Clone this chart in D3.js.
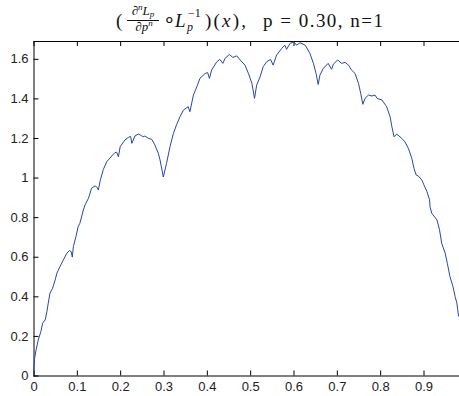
<!DOCTYPE html>
<html>
<head>
<meta charset="utf-8">
<script src="https://cdn.jsdelivr.net/npm/d3@7"></script>
<style>
  body { margin: 0; background: #fff; }
  svg { display: block; }
</style>
</head>
<body>
<div id="chart"></div>
<script>
// values
const curveX = [0, 0.001, 0.002, 0.006, 0.011, 0.017, 0.021, 0.027, 0.031, 0.034, 0.038, 0.044, 0.050, 0.054, 0.061, 0.069, 0.077, 0.083, 0.087, 0.0895,
  0.092, 0.098, 0.103, 0.107, 0.115, 0.119, 0.127, 0.134, 0.142, 0.147, 0.1496, 0.154, 0.161, 0.169, 0.181, 0.188, 0.192, 0.196,
  0.200, 0.211, 0.219, 0.224, 0.227, 0.234, 0.242, 0.249, 0.253, 0.257, 0.265, 0.273, 0.280, 0.288, 0.292, 0.2996,
  0.307, 0.315, 0.323, 0.330, 0.338, 0.346, 0.357, 0.361, 0.369, 0.377, 0.384, 0.396, 0.402, 0.406, 0.411, 0.423, 0.430, 0.437,
  0.442, 0.452, 0.460, 0.469, 0.477, 0.488, 0.496, 0.504, 0.510, 0.515, 0.523, 0.530, 0.538, 0.547, 0.553, 0.561, 0.573, 0.580,
  0.584, 0.592, 0.601, 0.607, 0.615, 0.627, 0.638, 0.646, 0.652, 0.657, 0.661, 0.669, 0.680, 0.688, 0.692, 0.702, 0.711, 0.719,
  0.727, 0.734, 0.742, 0.750, 0.755, 0.760, 0.765, 0.773, 0.781, 0.788, 0.793, 0.804, 0.815, 0.823, 0.827, 0.832, 0.838, 0.850,
  0.857, 0.865, 0.873, 0.878, 0.883, 0.888, 0.896, 0.901, 0.908, 0.914, 0.915, 0.919, 0.931, 0.937, 0.942, 0.950, 0.955, 0.961,
  0.968, 0.973, 0.977, 0.979, 0.981];
const curveY = [0, 0.045, 0.08, 0.13, 0.18, 0.222, 0.264, 0.281, 0.323, 0.365, 0.416, 0.441, 0.483, 0.517, 0.55, 0.584, 0.618, 0.631, 0.626, 0.598,
  0.651, 0.702, 0.752, 0.769, 0.836, 0.862, 0.896, 0.946, 0.958, 0.950, 0.937, 0.985, 1.04, 1.08, 1.11, 1.126, 1.128, 1.105,
  1.156, 1.19, 1.203, 1.208, 1.173, 1.21, 1.22, 1.212, 1.206, 1.21, 1.198, 1.193, 1.165, 1.123, 1.089, 1.003,
  1.072, 1.156, 1.224, 1.266, 1.307, 1.341, 1.358, 1.333, 1.417, 1.459, 1.501, 1.526, 1.53, 1.501, 1.543, 1.585, 1.597, 1.577,
  1.602, 1.622, 1.607, 1.615, 1.594, 1.568, 1.526, 1.476, 1.40, 1.467, 1.509, 1.560, 1.585, 1.597, 1.568, 1.619, 1.653, 1.669,
  1.648, 1.678, 1.686, 1.669, 1.681, 1.669, 1.627, 1.577, 1.526, 1.47, 1.518, 1.552, 1.577, 1.547, 1.573, 1.594, 1.577, 1.582,
  1.568, 1.543, 1.526, 1.476, 1.426, 1.37, 1.40, 1.417, 1.412, 1.417, 1.40, 1.392, 1.358, 1.307, 1.257, 1.206, 1.22, 1.198,
  1.181, 1.148, 1.097, 1.047, 1.013, 1.008, 0.988, 0.963, 0.929, 0.887, 0.853, 0.82, 0.786, 0.736, 0.668, 0.618, 0.567, 0.5,
  0.449, 0.399, 0.365, 0.332, 0.298];
const xTicks = [0, 0.1, 0.2, 0.3, 0.4, 0.5, 0.6, 0.7, 0.8, 0.9];
const yTicks = [0, 0.2, 0.4, 0.6, 0.8, 1, 1.2, 1.4, 1.6];
const xTickLabels = ["0", "0.1", "0.2", "0.3", "0.4", "0.5", "0.6", "0.7", "0.8", "0.9"];
const yTickLabels = ["0", "0.2", "0.4", "0.6", "0.8", "1", "1.2", "1.4", "1.6"];
const titleTail = "p = 0.30, n=1";

const W = 459, H = 396;
const plotL = 33.5, plotT = 41, plotB = 375.5, plotR = 458.6;

const svg = d3.select("#chart").append("svg")
  .attr("width", W).attr("height", H);

const x = d3.scaleLinear().domain([0, 0.981]).range([plotL, plotR]);
const y = d3.scaleLinear().domain([0, 1.69]).range([plotB, plotT]);

const tickFont = "'Liberation Sans', Arial, sans-serif";

// bottom axis, ticks pointing in
const xAxis = svg.append("g")
  .attr("transform", "translate(0," + plotB + ")")
  .call(d3.axisBottom(x).tickValues(xTicks)
    .tickFormat((d, i) => xTickLabels[i])
    .tickSizeInner(-5).tickSizeOuter(0).tickPadding(6));
xAxis.select(".domain").attr("d", "M" + plotL + ",0.5H" + W);

// top ticks
svg.append("g")
  .attr("transform", "translate(0," + plotT + ")")
  .call(d3.axisTop(x).tickValues(xTicks).tickFormat("")
    .tickSizeInner(-5).tickSizeOuter(0))
  .select(".domain").attr("d", "M" + plotL + ",0.5H" + W);

// left axis
svg.append("g")
  .attr("transform", "translate(" + plotL + ",0)")
  .call(d3.axisLeft(y).tickValues(yTicks)
    .tickFormat((d, i) => yTickLabels[i])
    .tickSizeInner(-5).tickSizeOuter(0).tickPadding(5))
  .select(".domain").attr("d", "M0.5," + plotT + "V" + (plotB + 1));

svg.selectAll(".tick text")
  .attr("font-family", tickFont)
  .attr("font-size", 13)
  .attr("fill", "#222");
svg.selectAll(".tick line, .domain").attr("stroke", "#000");

// the curve
const pts = curveX.map((d, i) => [d, curveY[i]]);
svg.append("path")
  .datum(pts)
  .attr("fill", "none")
  .attr("stroke", "#2747a8")
  .attr("stroke-width", 1)
  .attr("d", d3.line().x(d => x(d[0])).y(d => y(d[1])));

// title
const serif = "'Liberation Serif', 'Times New Roman', serif";
const t = svg.append("g").attr("font-family", serif).attr("fill", "#111");
t.append("text").attr("x", 116).attr("y", 27).attr("font-size", 19).text("(");
// fraction
const num = t.append("text").attr("x", 143).attr("y", 15).attr("font-size", 13).attr("text-anchor", "middle");
num.append("tspan").text("∂");
num.append("tspan").attr("font-size", 9).attr("dy", -5).attr("font-style", "italic").text("n");
num.append("tspan").attr("dy", 5).attr("font-style", "italic").text("L");
num.append("tspan").attr("font-size", 9).attr("dy", 2).attr("font-style", "italic").text("p");
t.append("line").attr("x1", 127).attr("x2", 159).attr("y1", 20.5).attr("y2", 20.5)
  .attr("stroke", "#111").attr("stroke-width", 1);
const den = t.append("text").attr("x", 144).attr("y", 31).attr("font-size", 13).attr("text-anchor", "middle");
den.append("tspan").text("∂");
den.append("tspan").attr("font-style", "italic").text("p");
den.append("tspan").attr("font-size", 9).attr("dy", -5).attr("font-style", "italic").text("n");
t.append("text").attr("x", 163).attr("y", 27).attr("font-size", 20).text("∘");
t.append("text").attr("x", 175).attr("y", 27).attr("font-size", 19).attr("font-style", "italic").text("L");
t.append("text").attr("x", 187).attr("y", 31).attr("font-size", 12).attr("font-style", "italic").text("p");
t.append("text").attr("x", 188).attr("y", 17).attr("font-size", 12).text("−1");
const mid = t.append("text").attr("x", 205).attr("y", 27).attr("font-size", 19)
  .attr("textLength", 41).attr("lengthAdjust", "spacing");
mid.append("tspan").text(")(");
mid.append("tspan").attr("font-style", "italic").text("x");
mid.append("tspan").text("),");
t.append("text").attr("x", 263).attr("y", 27).attr("font-size", 19)
  .attr("textLength", 120).attr("lengthAdjust", "spacing").text(titleTail);
</script>
</body>
</html>
